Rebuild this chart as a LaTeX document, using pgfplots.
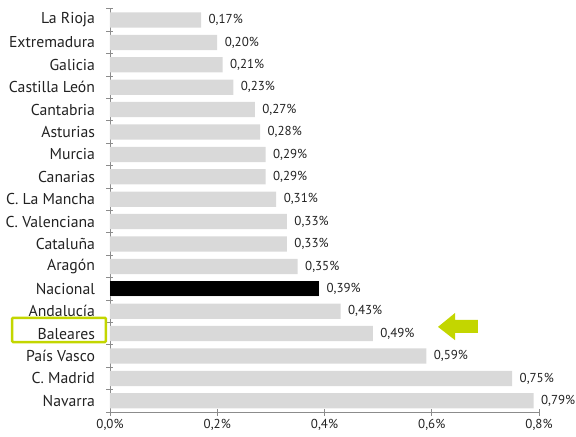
\documentclass[border=0pt]{standalone}
\usepackage{fontspec}
\setmainfont{PT Sans}
\usepackage{pgfplots}
\usepackage{pgfplotstable}
\pgfplotsset{compat=1.18}
\definecolor{bargray}{HTML}{D9D9D9}
\definecolor{limegreen}{HTML}{C3D600}
\definecolor{axgray}{HTML}{8C8C8C}
\definecolor{txt}{HTML}{222222}
\pgfplotstableread{
i v
0 0.17
1 0.20
2 0.21
3 0.23
4 0.27
5 0.28
6 0.29
7 0.29
8 0.31
9 0.33
10 0.33
11 0.35
12 0.39
13 0.43
14 0.49
15 0.59
16 0.75
17 0.79
}\datatab
\pgfplotstableread{
i v
12 0.39
}\nactab
\begin{document}
\begin{tikzpicture}
\useasboundingbox (-110bp,-25bp) rectangle (466bp,412bp);
\begin{axis}[
  scale only axis, width=429bp, height=403.2bp,
  xmin=0, xmax=0.8, ymin=-0.5, ymax=17.5, y dir=reverse,
  axis x line*=bottom, axis y line*=left,
  axis line style={axgray, line width=0.8pt, -},
  clip=false,
  xtick={0,0.2,0.4,0.6,0.8},
  xticklabel={\pgfmathprintnumber[fixed,fixed zerofill,precision=1,use comma]{\tick}\%},
  /pgf/number format/assume math mode=true,
  x tick label style={font=\fontsize{13}{15}\selectfont, text=txt},
  ytick={0,...,17},
  yticklabels={La Rioja,Extremadura,Galicia,Castilla León,Cantabria,Asturias,Murcia,Canarias,C. La Mancha,C. Valenciana,Cataluña,Aragón,Nacional,Andalucía,Baleares,País Vasco,C. Madrid,Navarra},
  y tick label style={font=\fontsize{15.8}{18}\selectfont, text=txt, xshift=-8bp},
  major y tick style={draw=none},
  minor ytick={-0.5,0.5,...,17.5},
  minor y tick style={draw=axgray, line width=0.8pt},
  minor tick length=7bp,
  major x tick style={draw=axgray, line width=0.8pt},
  major tick length=7bp,
  tick align=center,
]
\addplot[xbar, bar width=0.68, bar shift=0, fill=bargray, draw=none,
  point meta=x,
  nodes near coords={\pgfmathprintnumber[fixed,fixed zerofill,precision=2,use comma]{\pgfplotspointmeta}\%},
  every node near coord/.append style={font=\fontsize{13}{15}\selectfont, text=txt, anchor=west, xshift=4bp}]
  table[x=v, y=i] {\datatab};
\addplot[xbar, bar width=0.68, bar shift=0, fill=black, draw=none] table[x=v, y=i] {\nactab};
\draw[limegreen, line width=2.5bp, rounded corners=1bp] (axis cs:-0.1827,13.30) rectangle (axis cs:-0.0075,14.375);
\fill[limegreen] (axis cs:0.6117,13.70) -- (axis cs:0.6434,13.08) -- (axis cs:0.6434,13.39) -- (axis cs:0.6862,13.39) -- (axis cs:0.6862,13.97) -- (axis cs:0.6434,13.97) -- (axis cs:0.6434,14.29) -- cycle;
\end{axis}
\end{tikzpicture}
\end{document}
